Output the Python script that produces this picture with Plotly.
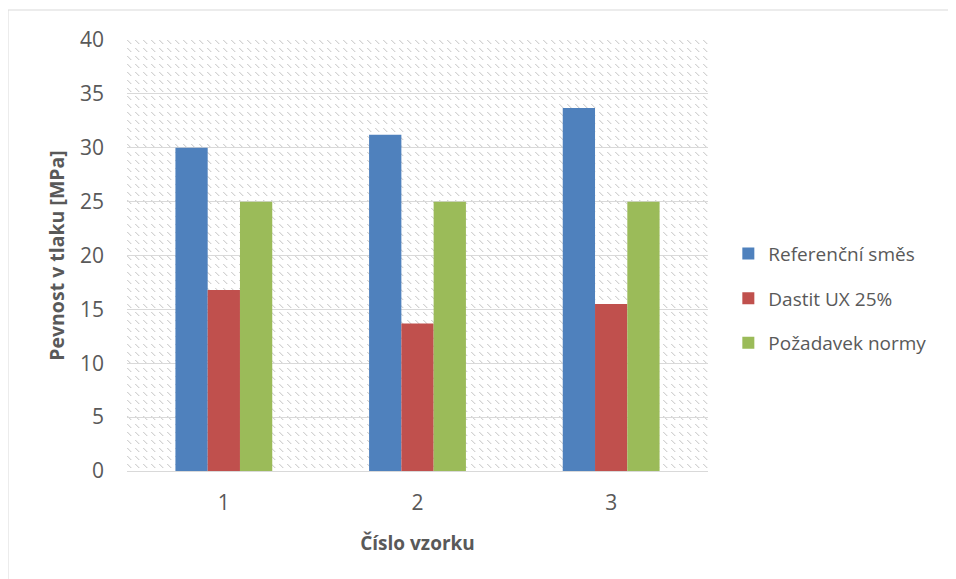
import plotly.graph_objects as go
import base64

categories = ["1", "2", "3"]
series_names = ["Referenční směs", "Dastit UX 25%", "Požadavek normy"]
referencni = [30.0, 31.2, 33.7]
dastit = [16.8, 13.7, 15.5]
pozadavek = [25.0, 25.0, 25.0]
y_ticks = [0, 5, 10, 15, 20, 25, 30, 35, 40]

colors = ["#4F81BD", "#C0504D", "#9BBB59"]
values = [referencni, dastit, pozadavek]

# page has an 8px body margin
W, H = 948, 571
L, R, T, B = 119, 248, 32, 108
pw, ph = W - L - R, H - T - B

# hatch background (dashed downward diagonal)
tile = ''.join(f'<rect x="{i}" y="{i}" width="1" height="1" fill="#d4d4d4"/>' for i in range(0, 4))
tile += ''.join(f'<rect x="{i+1}" y="{i}" width="1" height="1" fill="#eeeeee"/>' for i in range(0, 4))
svg = (f'<svg xmlns="http://www.w3.org/2000/svg" width="{pw}" height="{ph}" viewBox="0 0 {pw} {ph}" preserveAspectRatio="none">'
       f'<defs><pattern id="p" width="8" height="8" patternUnits="userSpaceOnUse">{tile}</pattern></defs>'
       f'<rect width="100%" height="100%" fill="white"/><rect width="100%" height="100%" fill="url(#p)"/></svg>')
src = "data:image/svg+xml;base64," + base64.b64encode(svg.encode()).decode()

fig = go.Figure()
for i, (name, vals) in enumerate(zip(series_names, values)):
    fig.add_trace(go.Bar(x=categories, y=vals, name=name, marker=dict(color=colors[i], line=dict(width=0)),
                         legendgroup=f"g{i}"))

font_family = "'Open Sans', sans-serif"
fig.update_layout(
    width=W, height=H,
    margin=dict(l=L, r=R, t=T, b=B),
    paper_bgcolor="white",
    plot_bgcolor="rgba(0,0,0,0)",
    barmode="group",
    bargap=0.5,
    bargroupgap=0,
    font=dict(family=font_family, color="#595959", size=19),
    xaxis=dict(showgrid=False, showline=True, linecolor="#d9d9d9", linewidth=1,
               ticks="", ticklabelstandoff=13, tickfont=dict(size=21, color="#595959"),
               title=dict(text="<b>Číslo vzorku</b>", font=dict(size=19, color="#595959"), standoff=21)),
    yaxis=dict(range=[0, 40], tickvals=y_ticks, showgrid=True, gridcolor="#d9d9d9", gridwidth=1,
               zeroline=False, showline=False, ticks="", ticklabelstandoff=22,
               tickfont=dict(size=21, color="#595959"),
               title=dict(text="<b>Pevnost v tlaku [MPa]</b>", font=dict(size=19.5, color="#595959"), standoff=10)),
    legend=dict(x=1.035, xanchor="left", y=0.40, yanchor="middle", traceorder="grouped",
                tracegroupgap=17, font=dict(size=19, color="#595959"), bgcolor="rgba(0,0,0,0)"),
    images=[dict(source=src, xref="paper", yref="paper", x=0, y=1, sizex=1, sizey=1,
                 sizing="stretch", xanchor="left", yanchor="top", layer="below")],
    shapes=[dict(type="rect", xref="paper", yref="paper",
                 x0=(0 - L) / pw, x1=(W + 10 - L) / pw,
                 y0=1 - (H + 10 - T) / ph, y1=1 - (2 - T) / ph,
                 line=dict(color="#d9d9d9", width=1), fillcolor="rgba(0,0,0,0)", layer="below")],
)

fig.write_html("out.html")
